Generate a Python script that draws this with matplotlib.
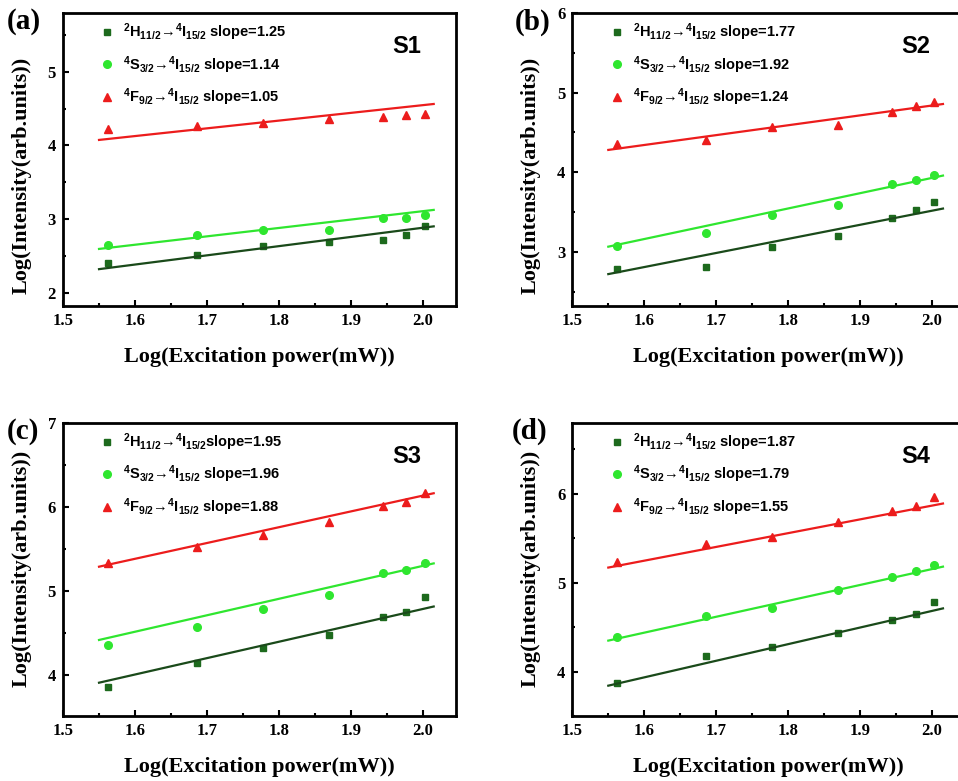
import numpy as np
import matplotlib
matplotlib.use("Agg")
import matplotlib.pyplot as plt
from matplotlib.ticker import MultipleLocator, FormatStrFormatter

# x values: log of excitation power, same for all samples
log_power = [1.562, 1.686, 1.778, 1.869, 1.944, 1.977, 2.003]

# S1
s1_h = [2.41, 2.51, 2.63, 2.69, 2.71, 2.78, 2.90]
s1_s = [2.65, 2.79, 2.85, 2.85, 3.01, 3.01, 3.06]
s1_f = [4.23, 4.26, 4.31, 4.36, 4.39, 4.42, 4.43]
s1_slopes = [1.25, 1.14, 1.05]
s1_icpt = [0.383, 0.828, 2.448]

# S2
s2_h = [2.78, 2.81, 3.06, 3.20, 3.43, 3.52, 3.62]
s2_s = [3.07, 3.24, 3.46, 3.59, 3.85, 3.90, 3.96]
s2_f = [4.35, 4.40, 4.57, 4.59, 4.76, 4.83, 4.88]
s2_slopes = [1.77, 1.92, 1.24]
s2_icpt = [-0.023, 0.089, 2.358]

# S3
s3_h = [3.86, 4.14, 4.32, 4.47, 4.69, 4.75, 4.93]
s3_s = [4.36, 4.57, 4.78, 4.95, 5.21, 5.25, 5.33]
s3_f = [5.33, 5.52, 5.66, 5.82, 6.01, 6.06, 6.16]
s3_slopes = [1.95, 1.96, 1.88]
s3_icpt = [0.884, 1.377, 2.373]

# S4
s4_h = [3.87, 4.17, 4.28, 4.43, 4.58, 4.65, 4.78]
s4_s = [4.39, 4.62, 4.72, 4.92, 5.06, 5.13, 5.20]
s4_f = [5.23, 5.44, 5.52, 5.68, 5.81, 5.86, 5.97]
s4_slopes = [1.87, 1.79, 1.55]
s4_icpt = [0.943, 1.574, 2.768]

fit_x = np.array([1.55, 2.015])

plt.rcParams['mathtext.fontset'] = 'custom'
plt.rcParams['mathtext.rm'] = 'Liberation Sans:bold'
plt.rcParams['mathtext.it'] = 'Liberation Sans:bold'
plt.rcParams['mathtext.bf'] = 'Liberation Sans:bold'

dark = '#1d6a1d'
dark_line = '#1a4a1a'
light = '#2fe62f'
red = '#ec1c1c'

trans = [r'$^{2}$H$_{11/2}$→$^{4}$I$_{15/2}$',
         r'$^{4}$S$_{3/2}$→$^{4}$I$_{15/2}$',
         r'$^{4}$F$_{9/2}$→$^{4}$I$_{15/2}$']

fig = plt.figure(figsize=(9.58, 7.81), dpi=100)

panels = [
    ('(a)', 'S1', [0.0658, 0.6082, 0.4102, 0.3752], (1.82, 5.8), s1_h, s1_s, s1_f, s1_slopes, s1_icpt, 0.447),
    ('(b)', 'S2', [0.5974, 0.6082, 0.4102, 0.3752], (2.32, 6.0), s2_h, s2_s, s2_f, s2_slopes, s2_icpt, 0.447),
    ('(c)', 'S3', [0.0658, 0.0832, 0.4102, 0.3755], (3.51, 7.0), s3_h, s3_s, s3_f, s3_slopes, s3_icpt, 0.505),
    ('(d)', 'S4', [0.5974, 0.0832, 0.4102, 0.3755], (3.5, 6.8), s4_h, s4_s, s4_f, s4_slopes, s4_icpt, 0.505),
]
tag_pos = [(0.0073, 0.972), (0.5376, 0.972), (0.0073, 0.448), (0.534, 0.448)]

for i, (tag, name, rect, ylim, yh, ys, yf, slopes, icpt, ylab_y) in enumerate(panels):
    ax = fig.add_axes(rect)
    h1, = ax.plot(log_power, yh, 's', color=dark, ms=5, mec=dark)
    h2, = ax.plot(log_power, ys, 'o', color=light, ms=5.5, mec=light)
    h3, = ax.plot(log_power, yf, '^', color=red, ms=5.5, mec=red)
    for k, c in enumerate([dark_line, light, red]):
        ax.plot(fit_x, slopes[k] * fit_x + icpt[k], '-', color=c, lw=1.6)

    ax.set_xlim(1.5, 2.046)
    ax.set_ylim(*ylim)
    ax.xaxis.set_major_locator(MultipleLocator(0.1))
    ax.xaxis.set_minor_locator(MultipleLocator(0.05))
    ax.yaxis.set_major_locator(MultipleLocator(1))
    ax.yaxis.set_minor_locator(MultipleLocator(0.5))
    ax.xaxis.set_major_formatter(FormatStrFormatter('%.1f'))
    ax.yaxis.set_major_formatter(FormatStrFormatter('%d'))
    ax.tick_params(which='both', direction='in', top=False, right=False, width=1.5)
    ax.tick_params(which='major', length=4, pad=5)
    ax.tick_params(which='minor', length=2.2)
    for lab in ax.get_xticklabels() + ax.get_yticklabels():
        lab.set_family('Liberation Serif')
        lab.set_fontweight('bold')
        lab.set_fontsize(12)
    for sp in ax.spines.values():
        sp.set_linewidth(2)

    ax.set_xlabel('Log(Excitation power(mW))', family='Liberation Serif',
                  fontweight='bold', fontsize=16)
    ax.set_ylabel('Log(Intensity(arb.units))', family='Liberation Serif',
                  fontweight='bold', fontsize=16)
    ax.xaxis.set_label_coords(0.5, -0.14)
    ax.yaxis.set_label_coords(-0.08, ylab_y)

    sep = ['' if name == 'S3' else ' ', ' ', ' ']
    labels = [trans[k] + sep[k] + 'slope=%.2f' % slopes[k] for k in range(3)]
    ax.legend([h1, h2, h3], labels, loc='upper left', bbox_to_anchor=(0.098, 0.971),
              frameon=False, handlelength=0.8, handletextpad=0.7, labelspacing=0.75,
              borderpad=0, borderaxespad=0,
              prop={'family': ['Liberation Sans', 'DejaVu Sans'], 'weight': 'bold', 'size': 10.5})

    ax.text(0.875, 0.885, name, transform=ax.transAxes, ha='center', va='center',
            family='Liberation Sans', fontweight='bold', fontsize=17)
    fig.text(tag_pos[i][0], tag_pos[i][1], tag, ha='left', va='center',
             family='Liberation Serif', fontweight='bold', fontsize=21)

fig.savefig('out.png', dpi=100)
